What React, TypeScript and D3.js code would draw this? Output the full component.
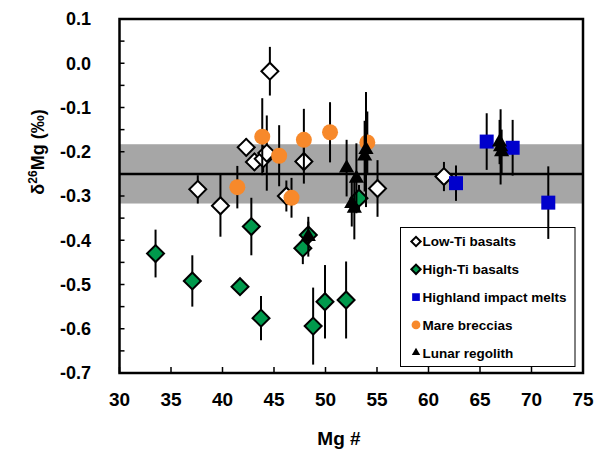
import React from 'react'
import * as d3 from 'd3'

// Mg# vs delta26Mg, lunar samples
const lowTiX = [42.3, 43.1, 43.95, 44.3, 44.6, 37.6, 39.8, 46.2, 47.9, 55.05, 61.5]
const lowTiY = [-0.19, -0.223, -0.216, -0.203, -0.018, -0.285, -0.322, -0.3, -0.222, -0.283, -0.256]
const lowTiErr = [0.02, 0.02, 0.03, 0.085, 0.055, 0.032, 0.07, 0.035, 0.05, 0.064, 0.033]

const highTiX = [33.5, 37.07, 41.7, 43.74, 42.8, 47.8, 48.33, 48.8, 49.95, 52.0, 53.25]
const highTiY = [-0.43, -0.492, -0.505, -0.576, -0.369, -0.418, -0.388, -0.594, -0.539, -0.535, -0.305]
const highTiErr = [0.054, 0.058, 0, 0.05, 0.065, 0.036, 0.03, 0.087, 0.083, 0.087, 0.03]

const highlandX = [62.67, 65.65, 68.17, 71.63]
const highlandY = [-0.271, -0.177, -0.191, -0.315]
const highlandErr = [0.04, 0.064, 0.063, 0.082]

const mareX = [43.86, 45.5, 41.44, 46.7, 47.9, 50.44, 54.06]
const mareY = [-0.166, -0.209, -0.28, -0.304, -0.173, -0.156, -0.179]
const mareErr = [0.087, 0.069, 0.048, 0.045, 0.07, 0.068, 0.07]

const regolithX = [52.05, 53.0, 53.93, 53.8, 52.55, 52.8, 48.33, 66.9, 67.0, 67.1]
const regolithY = [-0.237, -0.26, -0.195, -0.21, -0.317, -0.328, -0.392, -0.178, -0.189, -0.2]
const regolithErr = [0.064, 0.079, 0.13, 0.08, 0.052, 0.07, 0.045, 0.05, 0.085, 0.05]

const meanValue = -0.25
const bandHalf = 0.067

const xTicks = [30, 35, 40, 45, 50, 55, 60, 65, 70, 75]
const yTicks = [0.1, 0.0, -0.1, -0.2, -0.3, -0.4, -0.5, -0.6, -0.7]

const seriesNames = ['Low-Ti basalts', 'High-Ti basalts', 'Highland impact melts', 'Mare breccias', 'Lunar regolith']

const W = 596, H = 449
const left = 119.5, right = 583, top = 19, bottom = 373

const x = d3.scaleLinear().domain([30, 75]).range([left, right])
const y = d3.scaleLinear().domain([-0.7, 0.1]).range([bottom, top])

const font = '"Liberation Sans", Arial, sans-serif'

const series = [
  { name: seriesNames[0], xs: lowTiX, ys: lowTiY, err: lowTiErr, type: 'diamond', fill: '#ffffff' },
  { name: seriesNames[1], xs: highTiX, ys: highTiY, err: highTiErr, type: 'diamond', fill: '#00994c' },
  { name: seriesNames[2], xs: highlandX, ys: highlandY, err: highlandErr, type: 'square', fill: '#0000cc' },
  { name: seriesNames[3], xs: mareX, ys: mareY, err: mareErr, type: 'circle', fill: '#f7892b' },
  { name: seriesNames[4], xs: regolithX, ys: regolithY, err: regolithErr, type: 'triangle', fill: '#000000' },
]

const marker = (type: string, fill: string, scale: number) => {
  if (type === 'diamond') {
    const p = d3.symbol(d3.symbolSquare, 144 * scale * scale)()
    return <path d={p || ''} transform="rotate(45)" fill={fill} stroke="#000" strokeWidth={2} />
  }
  if (type === 'square') {
    const p = d3.symbol(d3.symbolSquare, 196 * scale * scale)()
    return <path d={p || ''} fill={fill} />
  }
  if (type === 'circle') {
    const p = d3.symbol(d3.symbolCircle, 201 * scale * scale)()
    return <path d={p || ''} fill={fill} />
  }
  const p = d3.symbol(d3.symbolTriangle, 100 * scale * scale)()
  return <path d={p || ''} fill={fill} />
}

const App = () => {
  return (
    <svg width={W} height={H} style={{ position: 'absolute', left: 0, top: 0 }} fontFamily={font}>
      <rect x={0} y={0} width={W} height={H} fill="#fff" />
      {/* uncertainty band + mean */}
      <rect x={left} y={y(meanValue + bandHalf)} width={right - left}
        height={y(meanValue - bandHalf) - y(meanValue + bandHalf)} fill="#a6a6a6" />
      <line x1={left} x2={right} y1={y(meanValue)} y2={y(meanValue)} stroke="#000" strokeWidth={2.5} />

      {/* ticks, inward */}
      {d3.range(-0.7, 0.1001, 0.05).map((v, i) => (
        <line key={'yt' + i} x1={left} x2={left + 5} y1={y(v)} y2={y(v)} stroke="#000" strokeWidth={1.5} />
      ))}
      {xTicks.map(v => (
        <line key={'xt' + v} x1={x(v)} x2={x(v)} y1={bottom} y2={bottom - 6} stroke="#000" strokeWidth={1.5} />
      ))}

      {/* legend box */}
      <rect x={400.5} y={227.5} width={174.5} height={139} fill="#fff" stroke="#000" strokeWidth={1} />
      {series.map((s, i) => (
        <g key={'lg' + i}>
          <g transform={`translate(416,${241.5 + i * 27.8})`}>{marker(s.type, s.fill, 0.55)}</g>
          <text x={422.5} y={241.5 + i * 27.8} dy="0.36em" fontSize={13.5} fontWeight="bold">{s.name}</text>
        </g>
      ))}

      {/* data */}
      {series.map((s, si) => (
        <g key={'s' + si}>
          {s.xs.map((xv, i) => s.err[i] > 0 ? (
            <line key={'e' + i} x1={x(xv)} x2={x(xv)} y1={y(s.ys[i] + s.err[i])} y2={y(s.ys[i] - s.err[i])}
              stroke="#000" strokeWidth={2} />
          ) : null)}
          {s.xs.map((xv, i) => (
            <g key={'m' + i} transform={`translate(${x(xv)},${y(s.ys[i])})`}>{marker(s.type, s.fill, 1)}</g>
          ))}
        </g>
      ))}

      {/* frame */}
      <rect x={left} y={top} width={right - left} height={bottom - top} fill="none" stroke="#000" strokeWidth={2.5} />

      {/* tick labels */}
      {yTicks.map(v => (
        <text key={'yl' + v} x={91} y={y(v)} dy="0.36em" textAnchor="end" fontSize={18} fontWeight="bold">
          {d3.format('.1f')(v).replace('−', '-')}
        </text>
      ))}
      {xTicks.map(v => (
        <text key={'xl' + v} x={x(v)} y={406} textAnchor="middle" fontSize={19} fontWeight="bold">{v}</text>
      ))}
      <text x={339} y={445} textAnchor="middle" fontSize={19} fontWeight="bold">Mg #</text>
      <text transform="translate(44,152) rotate(-90)" textAnchor="middle" fontSize={18} fontWeight="bold">
        δ<tspan fontSize={12} dy={-7}>26</tspan><tspan dy={7}>Mg (‰)</tspan>
      </text>
    </svg>
  )
}

export default App
